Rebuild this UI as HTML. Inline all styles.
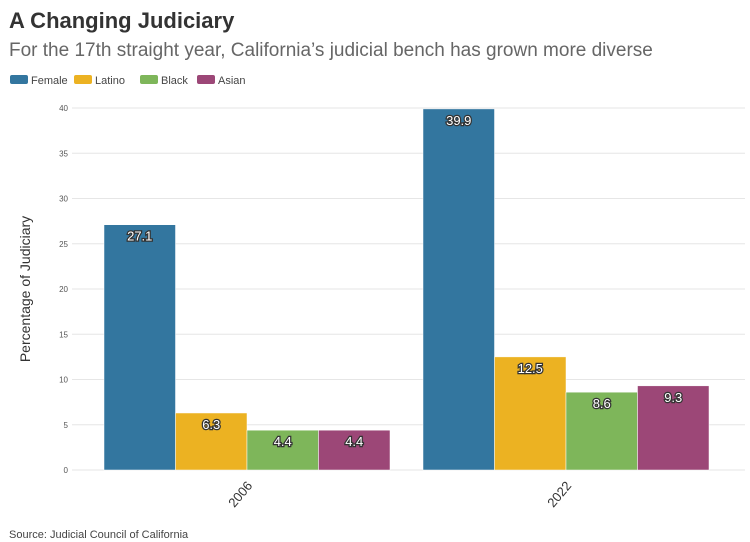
<!DOCTYPE html>
<html><head><meta charset="utf-8"><style>
body{margin:0;background:#fff;font-family:"Liberation Sans",sans-serif;}
#wrap{position:relative;width:750px;height:542px;overflow:hidden}
</style></head><body>
<div id="wrap">
<svg id="svg" width="750" height="542" xmlns="http://www.w3.org/2000/svg">
<text x="9" y="28" font-size="22" font-weight="bold" fill="#333">A Changing Judiciary</text>
<text x="9" y="56" font-size="19" fill="#666">For the 17th straight year, California’s judicial bench has grown more diverse</text>
<g id="legend"></g>
<g id="grid"></g>
<g id="bars"></g>
<g id="xaxis"></g>
<text transform="translate(30,289) rotate(-90)" text-anchor="middle" font-size="14" fill="#333">Percentage of Judiciary</text>
<text x="9" y="538" font-size="11" fill="#444">Source: Judicial Council of California</text>
</svg>
</div>
<script>
const categories = ["2006", "2022"];
const seriesNames = ["Female", "Latino", "Black", "Asian"];
const female = [27.1, 39.9];
const latino = [6.3, 12.5];
const black = [4.4, 8.6];
const asian = [4.4, 9.3];
const yTicks = [0, 5, 10, 15, 20, 25, 30, 35, 40];
const colors = ["#33769f", "#ecb222", "#7eb65a", "#9c4777"];
const series = [female, latino, black, asian];
const NS = "http://www.w3.org/2000/svg";
function mk(tag, attrs, parent, text){const e=document.createElementNS(NS,tag);for(const k in attrs)e.setAttribute(k,attrs[k]);if(text!==undefined)e.textContent=text;parent.appendChild(e);return e;}
const y0=470, y40=108;
function yScale(v){return y0-(y0-y40)*v/40;}
const groupStart=[104,423], barW=71.5;
function xScale(ci,si){return groupStart[ci]+si*barW;}
const grid=document.getElementById('grid');
yTicks.forEach(t=>{
  const l=mk('line',{x1:72,x2:745,y1:yScale(t),y2:yScale(t),stroke:'#e6e6e6','stroke-width':1},grid);
  
  
  const tx=mk('text',{x:68,y:yScale(t)+3,'text-anchor':'end','font-size':8,fill:'#555'},grid,String(t));
  
  
});
const bars=document.getElementById('bars');
series.forEach((vals,si)=>{
  vals.forEach((v,ci)=>{
    const r=mk('rect',{x:xScale(ci,si),y:yScale(v),width:barW,height:y0-yScale(v),fill:colors[si],stroke:'#fff','stroke-width':0.5},bars);
    
    
    const t=mk('text',{x:xScale(ci,si)+barW/2,y:yScale(v)+16,'text-anchor':'middle','font-size':13,fill:'#fff',stroke:'#333','stroke-width':2.5,'paint-order':'stroke'},bars,v.toFixed(1));
    
    
  });
});
const xa=document.getElementById('xaxis');
categories.forEach((c,ci)=>{
  const cx=groupStart[ci]+2*barW;
  const t=mk('text',{transform:`translate(${cx+6},${486}) rotate(-50)`,'text-anchor':'end','font-size':13,fill:'#333'},xa,c);
  
  
});
const lg=document.getElementById('legend');
const lx=[10,74,140,197];
seriesNames.forEach((n,i)=>{
  const r=mk('rect',{x:lx[i],y:75,width:18,height:9,rx:2,fill:colors[i]},lg);
  
  
  const t=mk('text',{x:lx[i]+21,y:84,'font-size':11,fill:'#444'},lg,n);
  
  
});
</script>
</body></html>
